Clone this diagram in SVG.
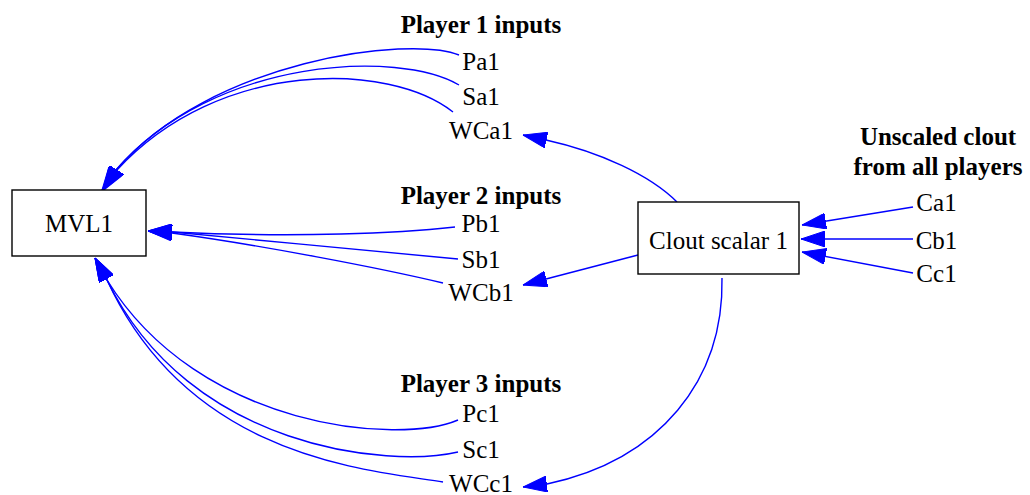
<svg xmlns="http://www.w3.org/2000/svg" width="1030" height="495" viewBox="0 0 1030 495">
  <style>
    text { font-family: "Liberation Serif", "Times New Roman", serif; font-size: 25px; fill: #000; text-anchor: middle; }
    .b { font-weight: bold; }
    .box { fill: #fff; stroke: #000; stroke-width: 1.4; }
    .e { fill: none; stroke: #0000ff; stroke-width: 1.4; marker-end: url(#ah); }
  </style>
  <defs>
    <marker id="ah" markerUnits="userSpaceOnUse" markerWidth="24" markerHeight="16" viewBox="0 0 24 16" refX="24" refY="8" orient="auto">
      <path d="M0,0 L24,8 L0,16 z" fill="#0000ff" stroke="#0000ff" stroke-width="1"/>
    </marker>
  </defs>
  <rect width="1030" height="495" fill="#fff"/>

  <g id="connectors">
    <path class="e" d="M459,55 C410,35 210,60 116,170 L102,190"/>
    <path class="e" d="M459,85 C400,50 215,56 116,170 L103,190"/>
    <path class="e" d="M453,112 C390,62 220,58 117,170 L104,190"/>
    <path class="e" d="M455,227 C400,233 300,238 172,232 L148,231"/>
    <path class="e" d="M458,259 C380,252 260,240 172,232 L148,231"/>
    <path class="e" d="M443,283 C380,268 260,245 172,233 L148,231"/>
    <path class="e" d="M458,420 C400,445 200,430 107,280 L95,258"/>
    <path class="e" d="M458,452 C390,468 190,450 107,280 L95,258"/>
    <path class="e" d="M443,482 C370,470 190,460 107,280 L95,258"/>
    <path class="e" d="M677,202 C650,175 600,152 546,140 L523,135"/>
    <path class="e" d="M638,255 L546,279 L523,285"/>
    <path class="e" d="M722,278 C724,380 660,460 547,484 L523,487"/>
    <path class="e" d="M913,207 L802,225"/>
    <path class="e" d="M913,239 L801,239"/>
    <path class="e" d="M913,273 L802,252"/>
  </g>

  <g id="MVL1"><rect class="box" x="12" y="190" width="134" height="66"/><text x="79" y="232">MVL1</text></g>
  <g id="Clout_scalar_1"><rect class="box" x="638" y="202" width="161" height="72"/><text x="718.5" y="249">Clout scalar 1</text></g>

  <g id="Player1_label"><text class="b" x="481" y="33">Player 1 inputs</text></g>
  <g id="Pa1"><text x="481" y="70">Pa1</text></g>
  <g id="Sa1"><text x="481" y="105">Sa1</text></g>
  <g id="WCa1"><text x="481" y="139">WCa1</text></g>

  <g id="Player2_label"><text class="b" x="481" y="204">Player 2 inputs</text></g>
  <g id="Pb1"><text x="481" y="232">Pb1</text></g>
  <g id="Sb1"><text x="481" y="268">Sb1</text></g>
  <g id="WCb1"><text x="481" y="301">WCb1</text></g>

  <g id="Player3_label"><text class="b" x="481" y="392">Player 3 inputs</text></g>
  <g id="Pc1"><text x="481" y="422">Pc1</text></g>
  <g id="Sc1"><text x="481" y="458">Sc1</text></g>
  <g id="WCc1"><text x="481" y="492">WCc1</text></g>

  <g id="Unscaled_label"><text class="b" x="938" y="145">Unscaled clout</text><text class="b" x="938" y="175">from all players</text></g>
  <g id="Ca1"><text x="936.5" y="211">Ca1</text></g>
  <g id="Cb1"><text x="936.5" y="249">Cb1</text></g>
  <g id="Cc1"><text x="936.5" y="282">Cc1</text></g>
</svg>
